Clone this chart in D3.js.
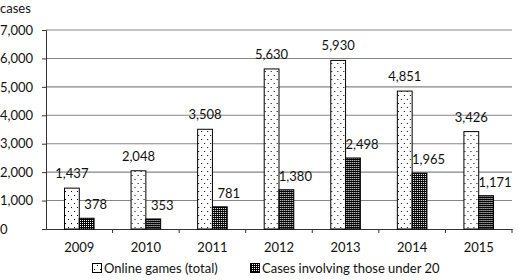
<!DOCTYPE html>
<html>
<head>
<meta charset="utf-8">
<script src="https://cdn.jsdelivr.net/npm/d3@7"></script>
<style>
  body { margin: 0; background: #fff; }
  svg { display: block; font-family: Lato, "Open Sans", sans-serif; }
</style>
</head>
<body>
<svg width="520" height="280"></svg>
<script>
let years = ["2009", "2010", "2011", "2012", "2013", "2014", "2015"]
let totalCases = [1437, 2048, 3508, 5630, 5930, 4851, 3426]
let youthCases = [378, 353, 781, 1380, 2498, 1965, 1171]
let yTicks = [0, 1000, 2000, 3000, 4000, 5000, 6000, 7000]
let seriesNames = ["Online games (total)", "Cases involving those under 20"]

let margin = { top: 30, right: 8, bottom: 51, left: 46 },
    width = 520 - margin.left - margin.right,
    height = 280 - margin.top - margin.bottom

let svg = d3.select("svg")

// fill patterns
let defs = svg.append("defs")
let p1 = defs.append("pattern")
    .attr("id", "dots")
    .attr("width", 6).attr("height", 8)
    .attr("patternUnits", "userSpaceOnUse")
p1.append("rect").attr("width", 6).attr("height", 8).attr("fill", "#fff")
p1.append("rect").attr("x", 1).attr("y", 1).attr("width", 1).attr("height", 1).attr("fill", "#000")
p1.append("rect").attr("x", 4).attr("y", 5).attr("width", 1).attr("height", 1).attr("fill", "#000")

let p2 = defs.append("pattern")
    .attr("id", "dense")
    .attr("width", 2).attr("height", 2)
    .attr("patternUnits", "userSpaceOnUse")
p2.append("rect").attr("width", 2).attr("height", 2).attr("fill", "#000")
p2.append("rect").attr("x", 0).attr("y", 0).attr("width", 1).attr("height", 1).attr("fill", "#fff")

let x = d3.scaleBand().domain(years).range([0, width])
let inner = d3.scaleBand().domain([0, 1]).range([0, x.bandwidth()]).paddingInner(0).paddingOuter(2.5 / 2)
let y = d3.scaleLinear().domain([0, 7000]).range([height, 0])

let g = svg.append("g")
    .attr("transform", "translate(" + margin.left + "," + margin.top + ")")

// gridlines
g.append("g")
    .selectAll("line")
    .data(yTicks.filter(d => d > 0))
    .join("line")
    .attr("x1", 0)
    .attr("x2", width)
    .attr("y1", d => y(d))
    .attr("y2", d => y(d))
    .attr("stroke", "#858585")
    .attr("stroke-width", 1.1)

// y axis
let yAxis = d3.axisLeft(y).tickValues(yTicks).tickSize(4).tickFormat(d3.format(","))
let yg = g.append("g").call(yAxis)
yg.select(".domain").attr("stroke", "#333")
yg.selectAll(".tick line").attr("stroke", "#333")
yg.selectAll(".tick text")
    .attr("x", -46)
    .attr("text-anchor", "start")
    .attr("font-size", 13)
    .attr("font-family", "Lato, sans-serif")
    .attr("fill", "#111")

// x axis
let xAxis = d3.axisBottom(x).tickSize(0).tickPadding(14)
let xg = g.append("g")
    .attr("transform", "translate(0," + height + ")")
    .call(xAxis)
xg.select(".domain").attr("stroke", "#333")
xg.selectAll(".tick text")
    .attr("font-size", 13)
    .attr("font-family", "Lato, sans-serif")
    .attr("fill", "#111")
xg.append("g")
    .selectAll("line")
    .data(years)
    .join("line")
    .attr("x1", d => x(d) + x.bandwidth())
    .attr("x2", d => x(d) + x.bandwidth())
    .attr("y1", 0)
    .attr("y2", 4)
    .attr("stroke", "#333")

// bars
let groups = g.selectAll(".year")
    .data(years)
    .join("g")
    .attr("class", "year")
    .attr("transform", d => "translate(" + x(d) + ",0)")

groups.append("rect")
    .attr("x", inner(0))
    .attr("width", inner.bandwidth())
    .attr("y", (d, i) => y(totalCases[i]))
    .attr("height", (d, i) => height - y(totalCases[i]))
    .attr("fill", "url(#dots)")
    .attr("stroke", "#000")
    .attr("stroke-width", 1)

groups.append("rect")
    .attr("x", inner(1))
    .attr("width", inner.bandwidth())
    .attr("y", (d, i) => y(youthCases[i]))
    .attr("height", (d, i) => height - y(youthCases[i]))
    .attr("fill", "url(#dense)")
    .attr("stroke", "#000")
    .attr("stroke-width", 1)

// value labels
groups.append("text")
    .attr("x", inner(0) + inner.bandwidth() / 2)
    .attr("y", (d, i) => y(totalCases[i]) - 10)
    .attr("text-anchor", "middle")
    .attr("font-size", 13)
    .attr("fill", "#111")
    .text((d, i) => d3.format(",")(totalCases[i]))

groups.append("text")
    .attr("x", inner(1) + inner.bandwidth() / 2 + 9)
    .attr("y", (d, i) => y(youthCases[i]) - 9)
    .attr("text-anchor", "middle")
    .attr("font-size", 13)
    .attr("fill", "#111")
    .text((d, i) => d3.format(",")(youthCases[i]))

// unit label
svg.append("text")
    .attr("x", 0)
    .attr("y", 13)
    .attr("font-size", 13)
    .attr("fill", "#111")
    .text("cases")

// legend
let legendX = [92, 250]
let legend = svg.append("g")
legend.selectAll("rect")
    .data(seriesNames)
    .join("rect")
    .attr("x", (d, i) => legendX[i] + 0.5)
    .attr("y", 263.5)
    .attr("width", 9)
    .attr("height", 9)
    .attr("fill", (d, i) => i === 0 ? "url(#dots)" : "url(#dense)")
    .attr("stroke", "#000")
legend.selectAll("text")
    .data(seriesNames)
    .join("text")
    .attr("x", (d, i) => legendX[i] + 12)
    .attr("y", 273)
    .attr("font-size", 13)
    .attr("fill", "#111")
    .text(d => d)
</script>
</body>
</html>
